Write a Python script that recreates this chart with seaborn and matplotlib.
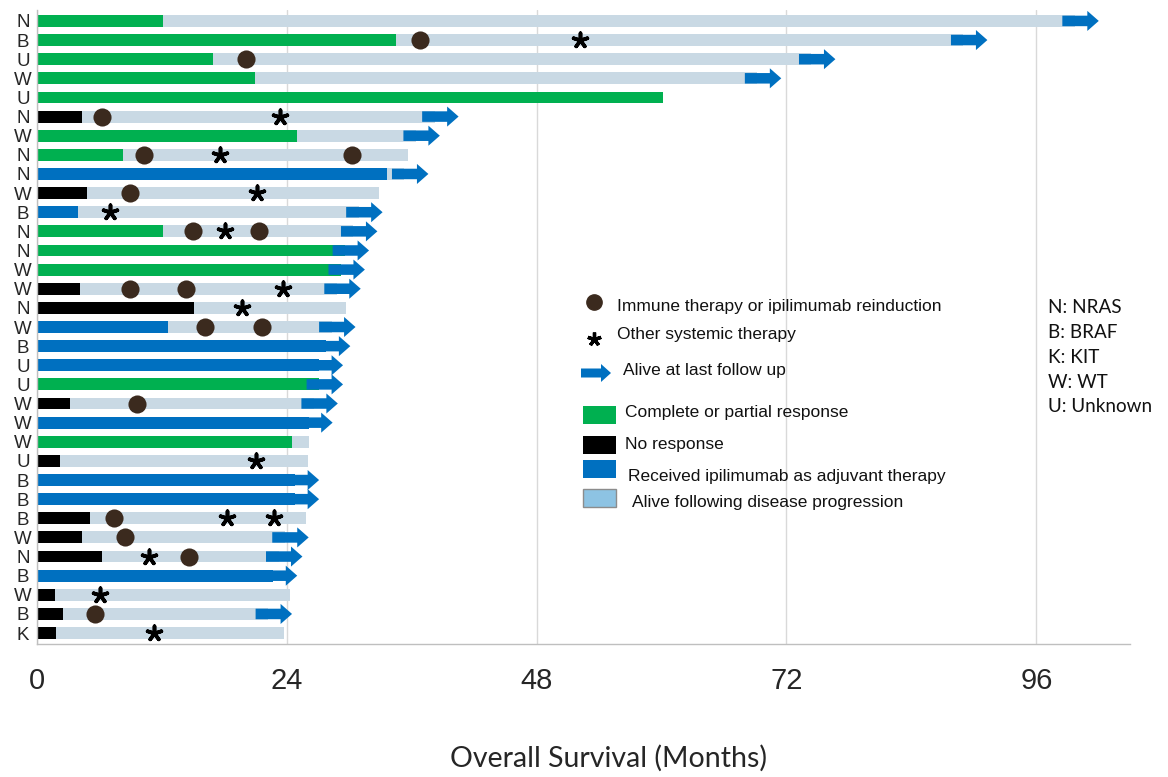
import numpy as np
import pandas as pd
import matplotlib.pyplot as plt
import seaborn as sns
from matplotlib.lines import Line2D
from matplotlib.patches import Rectangle, FancyArrow

# one entry per patient, top to bottom
mutation = ["N", "B", "U", "W", "U", "N", "W", "N", "N", "W", "B", "N", "N", "W", "W", "N", "W",
            "B", "U", "U", "W", "W", "W", "U", "B", "B", "B", "W", "N", "B", "W", "B", "K"]
response = ["CR/PR", "CR/PR", "CR/PR", "CR/PR", "CR/PR", "NR", "CR/PR", "CR/PR", "Adjuvant", "NR",
            "Adjuvant", "CR/PR", "CR/PR", "CR/PR", "NR", "NR", "Adjuvant", "Adjuvant", "Adjuvant",
            "CR/PR", "NR", "Adjuvant", "CR/PR", "NR", "Adjuvant", "Adjuvant", "NR", "NR", "NR",
            "Adjuvant", "NR", "NR", "NR"]
response_end = [12.1, 34.5, 16.9, 20.9, 60.1, 4.3, 25.0, 8.3, 33.6, 4.8, 3.9, 12.1, 29.6, 29.2, 4.1,
                15.1, 12.6, 27.8, 27.1, 27.1, 3.2, 26.1, 24.5, 2.2, 24.8, 24.8, 5.1, 4.3, 6.2, 22.7,
                1.7, 2.5, 1.8]
survival = [99.7, 89.0, 74.4, 69.2, 60.1, 38.2, 36.4, 35.6, 35.3, 32.9, 30.9, 30.4, 29.6, 29.2, 28.8,
            29.7, 28.3, 27.8, 27.1, 27.1, 26.6, 26.1, 26.1, 26.0, 24.8, 24.8, 25.8, 23.8, 23.2, 22.7,
            24.3, 22.2, 23.7]
alive = [1, 1, 1, 1, 0, 1, 1, 0, 1, 0, 1, 1, 1, 1, 1, 0, 1, 1, 1, 1, 1, 1, 0, 0, 1, 1, 0, 1, 1, 1, 0, 1, 0]
immune = [[], [36.8], [20.1], [], [], [6.2], [], [10.3, 30.3], [], [8.9], [], [15.0, 21.3], [], [],
          [8.9, 14.3], [], [16.1, 21.6], [], [], [], [9.6], [], [], [], [], [], [7.4], [8.5], [14.6],
          [], [], [5.6], []]
other = [[], [52.2], [], [], [], [23.3], [], [17.6], [], [21.1], [7.0], [18.1], [], [], [23.6], [19.7],
         [], [], [], [], [], [], [], [21.0], [], [], [18.3, 22.8], [], [10.8], [], [6.1], [], [11.2]]
x_ticks = [0, 24, 48, 72, 96]

green = "#00B050"
blue = "#0070C0"
light = "#C9D9E4"
dot_color = "#3B2A1E"
palette = {"CR/PR": green, "NR": "#000000", "Adjuvant": blue}

sns.set_style("white")
plt.rcParams['font.family'] = ['Liberation Sans', 'DejaVu Sans']

W, H = 1168, 777
fig = plt.figure(figsize=(W / 100, H / 100), dpi=100)
ax = fig.add_axes([37 / W, 1 - 643.6 / H, 1093 / W, 633.2 / H])

n = len(mutation)
df = pd.DataFrame({"row": [str(i) for i in range(n)], "survival": survival,
                   "response_end": response_end, "response": response})

sns.barplot(data=df, x="survival", y="row", orient="h", color=light, saturation=1,
            width=0.62, linewidth=0, ax=ax)
sns.barplot(data=df, x="response_end", y="row", orient="h", hue="response", palette=palette,
            dodge=False, saturation=1, width=0.62, linewidth=0, legend=False, ax=ax)

# alive at last follow up
for i in range(n):
    if alive[i]:
        ax.add_patch(FancyArrow(survival[i] - 1.2, i, 3.5, 0, width=0.55, head_width=1.05,
                                head_length=1.1, length_includes_head=True, color=blue,
                                lw=0, zorder=3))

imm = pd.DataFrame([(t, i) for i, ts in enumerate(immune) for t in ts], columns=["month", "pos"])
oth = pd.DataFrame([(t, i) for i, ts in enumerate(other) for t in ts], columns=["month", "pos"])
sns.scatterplot(data=imm, x="month", y="pos", color=dot_color, s=170, linewidth=0, ax=ax, zorder=4)
sns.scatterplot(data=oth, x="month", y="pos", marker=(5, 2, 0), color="black", s=110,
                linewidth=2.6, ax=ax, zorder=4)

ax.set_xlim(0, 105)
ax.set_ylim(n - 0.45, -0.55)
ax.set_xticks(x_ticks)
ax.set_xticklabels([str(t) for t in x_ticks])
ax.set_yticks(range(n))
ax.set_yticklabels(mutation)
for lbl in ax.get_yticklabels():
    lbl.set_ha("center")
ax.tick_params(axis="x", length=0, pad=17, labelsize=21)
ax.tick_params(axis="y", length=0, pad=10, labelsize=13.5)
ax.xaxis.grid(True, color="#D9D9D9", lw=1)
ax.set_axisbelow(True)
ax.set_ylabel("")
ax.set_xlabel("Overall Survival (Months)", fontsize=20.5, family=["Lato", "DejaVu Sans"])
ax.xaxis.set_label_coords(0.523, -0.16)
for s in ["top", "right"]:
    ax.spines[s].set_visible(False)
for s in ["left", "bottom"]:
    ax.spines[s].set_color("#BFBFBF")
    ax.spines[s].set_linewidth(1)


def fx(px):
    return px / W


def fy(py):
    return 1 - py / H


# legend
fig.add_artist(Line2D([fx(594)], [fy(302)], marker="o", ms=11, color=dot_color, ls="none"))
fig.add_artist(Line2D([fx(594)], [fy(339)], marker=(5, 2, 0), ms=10, mew=2.4, color="black", ls="none"))
fig.add_artist(FancyArrow(fx(581), fy(373), 30 / W, 0, width=9 / H, head_width=18 / H,
                          head_length=10 / W, length_includes_head=True, color=blue, lw=0,
                          transform=fig.transFigure))
for top, col, ec in [(406, green, "none"), (436, "#000000", "none"), (460, blue, "none"),
                     (489, "#8DC3E3", "#8C8C8C")]:
    fig.add_artist(Rectangle((fx(583), fy(top + 18)), 33 / W, 18 / H, facecolor=col,
                             edgecolor=ec, lw=1, transform=fig.transFigure))
legend_text = [(617, 306, "Immune therapy or ipilimumab reinduction"),
               (617, 335, "Other systemic therapy"),
               (623, 370, "Alive at last follow up"),
               (625, 413, "Complete or partial response"),
               (625, 444, "No response"),
               (628, 477, "Received ipilimumab as adjuvant therapy"),
               (632, 503, "Alive following disease progression")]
for x, y, t in legend_text:
    fig.text(fx(x), fy(y), t, va="center", ha="left", fontsize=12.5, color="#111111")

key = ["N: NRAS", "B: BRAF", "K: KIT", "W: WT", "U: Unknown"]
for k, t in enumerate(key):
    fig.text(fx(1048), fy(308 + 24.7 * k), t, va="center", ha="left", fontsize=13.6,
             family=["Lato", "DejaVu Sans"], color="#111111")

fig.savefig("out.png", dpi=100)
